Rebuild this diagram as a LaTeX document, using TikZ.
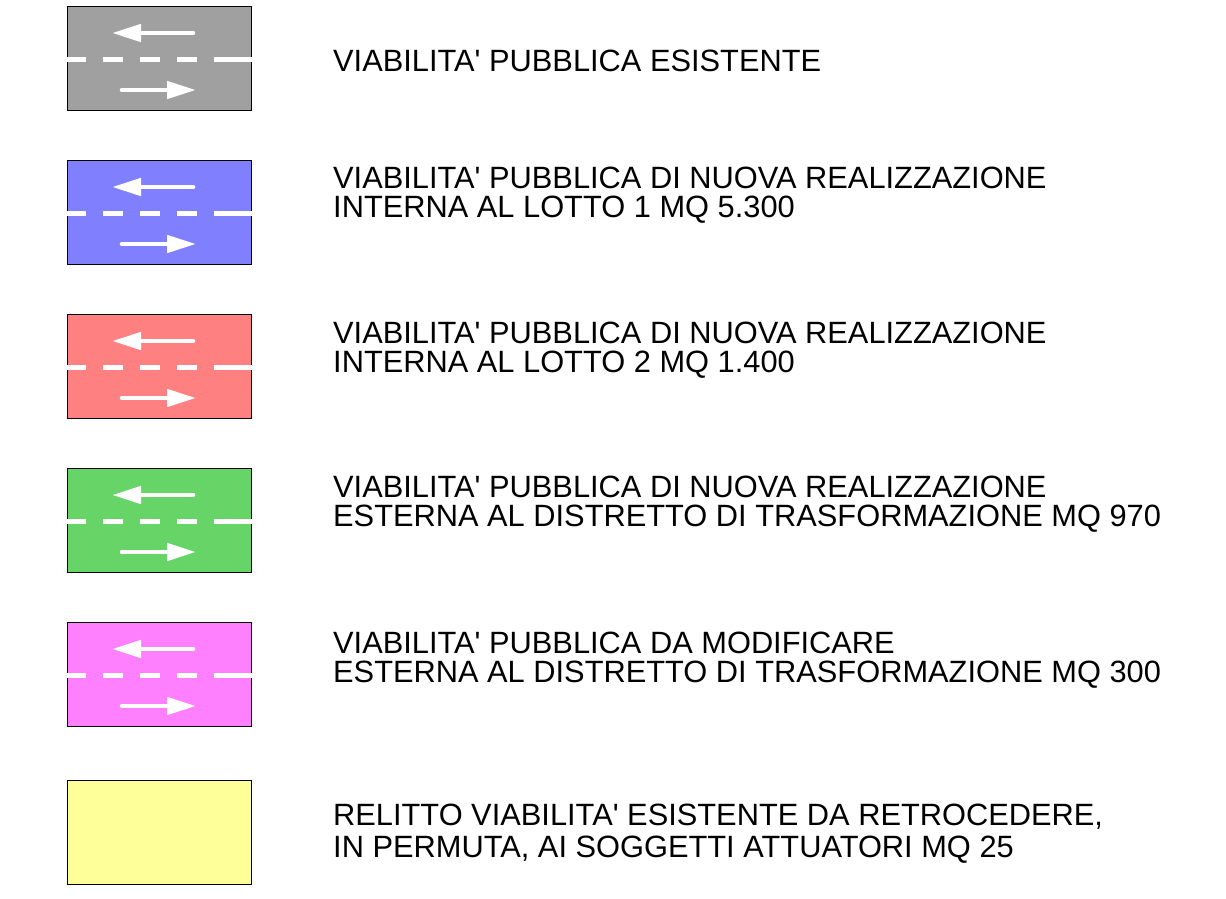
\documentclass[tikz,border=0pt]{standalone}
\usepackage{fontspec}
\newfontfamily\legendfont{Liberation Sans}
\usetikzlibrary{arrows.meta, positioning}

\definecolor{roadgray}{RGB}{160,160,160}
\definecolor{roadblue}{RGB}{128,128,255}
\definecolor{roadred}{RGB}{255,128,128}
\definecolor{roadgreen}{RGB}{102,212,102}
\definecolor{roadmagenta}{RGB}{255,128,255}
\definecolor{roadyellow}{RGB}{255,255,153}

\tikzset{
  legendbox/.style={draw=black, line width=1.3pt, anchor=north west,
    minimum width=184pt, minimum height=104pt, inner sep=0pt},
  lane/.style={white, line width=5pt,
    dash pattern=on 21pt off 17pt on 20pt off 17pt on 20pt off 17pt on 20pt off 17pt on 39pt off 1pt},
  flow/.style={white, line width=4.6pt, line cap=round, -{Triangle[length=29pt,width=17pt]}},
  legendtext/.style={anchor=base west, inner sep=0pt, font=\legendfont\fontsize{30.8}{34}\selectfont}
}

\begin{document}
\begin{tikzpicture}[x=1pt,y=-1pt]
  \useasboundingbox (0,0) rectangle (1226,898);
  % road boxes with lanes
  \foreach \name/\col/\top in {gray/roadgray/6, blue/roadblue/160, red/roadred/314,
                                green/roadgreen/468, magenta/roadmagenta/622}{
    \node[legendbox, fill=\col] (box-\name) at (67,\top) {};
    \draw[lane] (65,\top+53) -- (253,\top+53);
    \draw[flow] (193,\top+27) -- (112,\top+27);
    \draw[flow] (122,\top+84) -- (196,\top+84);
  }
  \node[legendbox, fill=roadyellow] (box-yellow) at (67,780) {};

  % descriptions
  \node[legendtext] (text-gray) at (333,71) {VIABILITA' PUBBLICA ESISTENTE};
  \node[legendtext] (text-blue-a) at (333,188) {VIABILITA' PUBBLICA DI NUOVA REALIZZAZIONE};
  \node[legendtext] (text-blue-b) at (333,217) {INTERNA AL LOTTO 1 MQ 5.300};
  \node[legendtext] (text-red-a) at (333,343) {VIABILITA' PUBBLICA DI NUOVA REALIZZAZIONE};
  \node[legendtext] (text-red-b) at (333,372) {INTERNA AL LOTTO 2 MQ 1.400};
  \node[legendtext] (text-green-a) at (333,497) {VIABILITA' PUBBLICA DI NUOVA REALIZZAZIONE};
  \node[legendtext] (text-green-b) at (333,526) {ESTERNA AL DISTRETTO DI TRASFORMAZIONE MQ 970};
  \node[legendtext] (text-magenta-a) at (333,653) {VIABILITA' PUBBLICA DA MODIFICARE};
  \node[legendtext] (text-magenta-b) at (333,682) {ESTERNA AL DISTRETTO DI TRASFORMAZIONE MQ 300};
  \node[legendtext] (text-yellow-a) at (333,825) {RELITTO VIABILITA' ESISTENTE DA RETROCEDERE,};
  \node[legendtext] (text-yellow-b) at (333,857) {IN PERMUTA, AI SOGGETTI ATTUATORI MQ 25};
\end{tikzpicture}
\end{document}
